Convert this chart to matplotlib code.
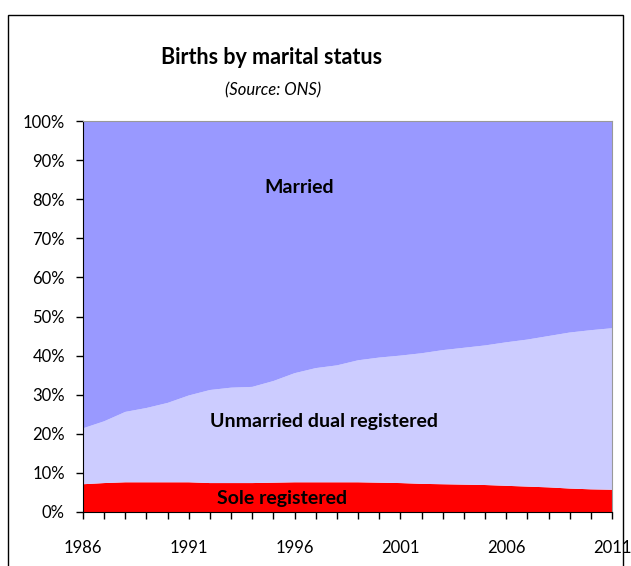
import matplotlib
matplotlib.use("Agg")
import matplotlib.pyplot as plt
from matplotlib.patches import Rectangle
from matplotlib.ticker import MultipleLocator, FuncFormatter

plt.rcParams['font.family'] = ['Lato', 'DejaVu Sans']

# Dati: percentuale di nascite per stato civile
anni = list(range(1986, 2012))
sole_registered = [7.1, 7.4, 7.6, 7.6, 7.6, 7.6, 7.4, 7.4, 7.4, 7.5, 7.6, 7.6, 7.6, 7.6, 7.5, 7.4, 7.2,
                   7.1, 7.0, 6.9, 6.7, 6.5, 6.3, 6.0, 5.8, 5.7]
fuori_matrimonio = [21.4, 23.2, 25.6, 26.6, 27.9, 29.8, 31.2, 31.8, 32.0, 33.5, 35.5, 36.8, 37.5, 38.8, 39.5,
                    40.0, 40.6, 41.4, 42.0, 42.6, 43.4, 44.1, 45.0, 45.9, 46.5, 47.0]
dual_registered = [t - s for t, s in zip(fuori_matrimonio, sole_registered)]
married = [100 - t for t in fuori_matrimonio]

fig = plt.figure(figsize=(6.31, 5.66), dpi=100)
ax = fig.add_axes([83 / 631, 1 - 512 / 566, (612 - 83) / 631, (512 - 121) / 566])

ax.stackplot(anni, sole_registered, dual_registered, married,
             colors=['#FF0000', '#CCCCFF', '#9999FF'], linewidth=0)

ax.set_xlim(1986, 2011)
ax.set_ylim(0, 100)
ax.xaxis.set_major_locator(MultipleLocator(1))
ax.xaxis.set_major_formatter(FuncFormatter(lambda v, p: str(int(v)) if int(v) % 5 == 1 else ''))
ax.yaxis.set_major_locator(MultipleLocator(10))
ax.yaxis.set_major_formatter(FuncFormatter(lambda v, p: f"{int(v)}%"))
ax.tick_params(axis='x', length=5, width=1, pad=15, labelsize=12)
ax.tick_params(axis='y', length=5, width=1, pad=8, labelsize=12)

ax.spines['left'].set_color('black')
ax.spines['bottom'].set_color('black')
ax.spines['top'].set_color('#999999')
ax.spines['right'].set_color('#999999')

# Etichette delle aree
ax.text(1996.2, 83, "Married", ha='center', va='center', fontsize=14, fontweight='bold')
ax.text(1997.4, 23.1, "Unmarried dual registered", ha='center', va='center', fontsize=14, fontweight='bold')
ax.text(1995.4, 3.5, "Sole registered", ha='center', va='center', fontsize=14, fontweight='bold')

# Titolo
fig.text(272 / 631, 1 - 57 / 566, "Births by marital status", ha='center', va='center',
         fontsize=15.5, fontweight='bold')
fig.text(273 / 631, 1 - 90 / 566, "(Source: ONS)", ha='center', va='center',
         fontsize=12, style='italic')

# Bordo esterno del grafico
fig.patches.append(Rectangle((8 / 631, -0.02), 615 / 631, 1.02 - 15 / 566, transform=fig.transFigure,
                             fill=False, edgecolor='black', linewidth=1))

plt.savefig("out.png", dpi=100)
